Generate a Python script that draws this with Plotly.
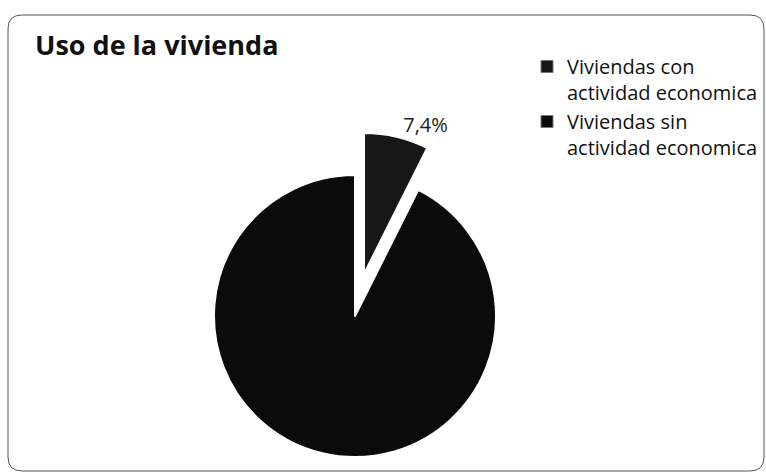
import plotly.graph_objects as go

# Data
categories = ["Viviendas con<br>actividad economica", "Viviendas sin<br>actividad economica"]
values = [7.4, 92.6]
value_labels = ["7,4%", ""]
slice_colors = ["#171717", "#0b0b0b"]

W, H = 766, 476
FONT = "Open Sans"

def dom(cx, cy, r):
    return dict(x=[(cx - r) / W, (cx + r) / W], y=[(H - cy - r) / H, (H - cy + r) / H])

fig = go.Figure()

# Main (large) slice; the small slice is drawn by the second trace, pulled out
fig.add_trace(go.Pie(
    labels=categories, values=values, sort=False, direction="clockwise", rotation=0,
    marker=dict(colors=["rgba(0,0,0,0)", slice_colors[1]], line=dict(color="white", width=[0, 2])),
    textinfo="none", hoverinfo="skip", showlegend=False,
    domain=dom(355, 316, 141),
))
# Pulled-out small slice
fig.add_trace(go.Pie(
    labels=categories, values=values, sort=False, direction="clockwise", rotation=0,
    marker=dict(colors=[slice_colors[0], "rgba(0,0,0,0)"], line=dict(color="white", width=[2, 0])),
    text=value_labels, textinfo="text", textposition=["outside", "none"],
    textfont=dict(family=FONT, size=20, color="#222"),
    hoverinfo="skip", showlegend=False,
    domain=dom(364, 274, 141),
))

# Legend entries
for i, (lab, col) in enumerate(zip(categories, slice_colors)):
    fig.add_trace(go.Scatter(
        x=[None], y=[None], mode="markers", name=lab, legendgroup=str(i),
        marker=dict(symbol="square", size=12, color=col, line=dict(color="#777", width=1)),
    ))

# Frame (rounded rectangle)
x0, x1, y0, y1, rc = 8 / W, 764 / W, 1 - 15 / H, 1 - 471 / H, 14
rx, ry = rc / W, rc / H
path = (f"M{x0+rx},{y0} L{x1-rx},{y0} Q{x1},{y0} {x1},{y0-ry} L{x1},{y1+ry} Q{x1},{y1} {x1-rx},{y1} "
        f"L{x0+rx},{y1} Q{x0},{y1} {x0},{y1+ry} L{x0},{y0-ry} Q{x0},{y0} {x0+rx},{y0} Z")

fig.update_layout(
    width=W, height=H,
    margin=dict(l=0, r=0, t=0, b=0),
    paper_bgcolor="white", plot_bgcolor="white",
    font=dict(family=FONT, color="#111"),
    title=dict(text="<b>Uso de la vivienda</b>", x=35 / W, xanchor="left", y=1 - 46 / H, yanchor="middle",
               font=dict(family=FONT, size=27, color="#111")),
    xaxis=dict(visible=False), yaxis=dict(visible=False),
    legend=dict(x=527 / W, xanchor="left", y=1 - 47 / H, yanchor="top", valign="top",
                font=dict(family=FONT, size=20, color="#111"), tracegroupgap=0,
                bgcolor="rgba(0,0,0,0)", itemclick=False),
    shapes=[dict(type="path", path=path, xref="paper", yref="paper", line=dict(color="#555", width=1))],
)

fig.write_html("out.html", config={"displayModeBar": False},
               post_script="document.body.style.margin='0';")
